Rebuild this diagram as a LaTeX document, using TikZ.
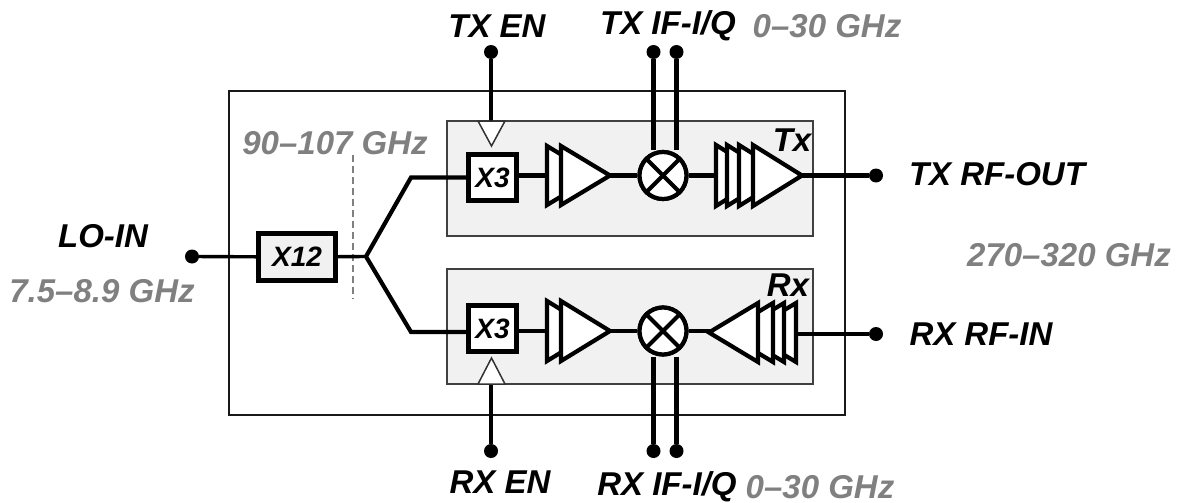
\documentclass[tikz,border=0pt]{standalone}
\usepackage{fontspec}
\setmainfont{Liberation Sans}
\usetikzlibrary{positioning, calc}
\definecolor{blockfill}{HTML}{F1F1F1}
\definecolor{freqgray}{HTML}{808080}
\tikzset{
    lbl/.style={font=\fontsize{33}{36}\selectfont\bfseries\itshape, text=black, inner sep=0pt},
    freq/.style={lbl, text=freqgray},
    chain/.style={draw=black, line width=4.2pt, fill=white, line join=miter},
    wire/.style={line width=4.2pt, black},
    thinwire/.style={line width=3.4pt, black},
    pin/.style={circle, fill=black, inner sep=0pt, minimum size=14pt},
    mix/.style={circle, draw=black, line width=4.2pt, fill=white, minimum size=47pt, inner sep=0pt},
    mult/.style={draw=black, line width=4.2pt, fill=white, inner sep=0pt, font=\fontsize{28}{30}\selectfont\bfseries\itshape},
    panel/.style={draw=black!75, line width=1.2pt, fill=blockfill},
    entri/.style={draw=black!80, line width=1.5pt, fill=white}
}
\begin{document}
\begin{tikzpicture}[x=1pt, y=-1pt]
    \useasboundingbox (0,0) rectangle (1178,503);
    % chip outline and panels
    \draw[line width=1.6pt, black!90] (229,91) rectangle (845,415);
    \draw[panel] (447,121) rectangle (813,236);
    \draw[panel] (447,269) rectangle (813,384);
    % pins
    \node[pin] (loin) at (192,256.5) {};
    \node[pin] (txen) at (491,52) {};
    \node[pin] (rxen) at (491,451) {};
    \node[pin] (txi) at (653.5,52) {};
    \node[pin] (txq) at (676.5,52) {};
    \node[pin] (rxi) at (653.5,451) {};
    \node[pin] (rxq) at (676.5,451) {};
    \node[pin] (txout) at (876,175.5) {};
    \node[pin] (rxin) at (876,334) {};
    % blocks
    \node[mult, minimum width=77pt, minimum height=47pt, fill=blockfill] (xlo) at (297,257) {X12};
    \node[mult, minimum width=48pt, minimum height=46pt] (xtx) at (492.5,177.5) {X3};
    \node[mult, minimum width=48pt, minimum height=46pt] (xrx) at (492.5,328.5) {X3};
    \node[mix] (mixtx) at (663,175.5) {};
    \node[mix] (mixrx) at (663,331) {};
    \coordinate (split) at (366,256.5);
    \coordinate (uptx) at (411,177.5);
    \coordinate (uprx) at (411,332);
    \coordinate (enta) at (491,121);
    \coordinate (entb) at (491,384);
    % dashed cut
    \draw[freqgray, line width=1.2pt, dash pattern=on 7pt off 4pt] (353,155) -- (353,299);
    % wires
    \draw[thinwire] (loin) -- (xlo);
    \draw[thinwire] (xlo) -- (split);
    \draw[wire] (xtx.west |- uptx) -- (uptx) -- (split) -- (uprx) -- (xrx.west |- uprx);
    \draw[wire] (txen) -- (enta);
    \draw[wire] (rxen) -- (entb);
    \draw[wire] (xtx.east |- mixtx) -- (mixtx);
    \draw[wire] (xrx.east |- mixrx) -- (mixrx);
    \draw[wire] (mixtx) -- (740,175.5);
    \draw[wire] (mixrx) -- (720,331);
    \draw[wire] (790,175.5) -- (txout);
    \draw[wire] (790,334) -- (rxin);
    \draw[wire] (txi) -- (txi |- mixtx.north);
    \draw[wire] (txq) -- (txq |- mixtx.north);
    \draw[wire] (rxi) -- (rxi |- mixrx.south);
    \draw[wire] (rxq) -- (rxq |- mixrx.south);
    % enable triangles
    \draw[entri] (478,121) -- (505,121) -- (491.5,146) -- cycle;
    \draw[entri] (478,384) -- (505,384) -- (491.5,358) -- cycle;
    % amplifiers
    \foreach \xa in {547,561}
        \draw[chain] (\xa,146) -- ({\xa+49},175.5) -- (\xa,205) -- cycle;
    \foreach \xa in {547,561}
        \draw[chain] (\xa,301) -- ({\xa+49},331) -- (\xa,361) -- cycle;
    \foreach \xa in {716,727,739,753}
        \draw[chain] (\xa,145) -- ({\xa+49},175.5) -- (\xa,206) -- cycle;
    \foreach \xa in {796,784,773,758}
        \draw[chain] (\xa,303) -- ({\xa-49},332.5) -- (\xa,362) -- cycle;
    % mixers on top
    \node[mix] (mixtxb) at (mixtx) {};
    \node[mix] (mixrxb) at (mixrx) {};
    \draw[wire] (mixtxb.45) -- (mixtxb.225);
    \draw[wire] (mixtxb.135) -- (mixtxb.315);
    \draw[wire] (mixrxb.45) -- (mixrxb.225);
    \draw[wire] (mixrxb.135) -- (mixrxb.315);
    % labels
    \node[lbl] (txl) at (792,140) {Tx};
    \node[lbl] (rxl) at (788,285) {Rx};
    \node[lbl] (txenl) at (497,26) {TX EN};
    \node[lbl] (txifl) at (668,26) {TX IF-I/Q};
    \node[freq] (txiff) at (827,26) {0--30 GHz};
    \node[freq] (lof) at (335,143) {90--107 GHz};
    \node[lbl] (lol) at (103,236) {LO-IN};
    \node[freq] (lofin) at (102,291) {7.5--8.9 GHz};
    \node[lbl] (txoutl) at (997,174) {TX RF-OUT};
    \node[freq] (rff) at (1069,255) {270--320 GHz};
    \node[lbl] (rxinl) at (981,334) {RX RF-IN};
    \node[lbl] (rxenl) at (500,482) {RX EN};
    \node[lbl] (rxifl) at (667,487) {RX IF-I/Q};
    \node[freq] (rxiff) at (820,487) {0--30 GHz};
\end{tikzpicture}
\end{document}
